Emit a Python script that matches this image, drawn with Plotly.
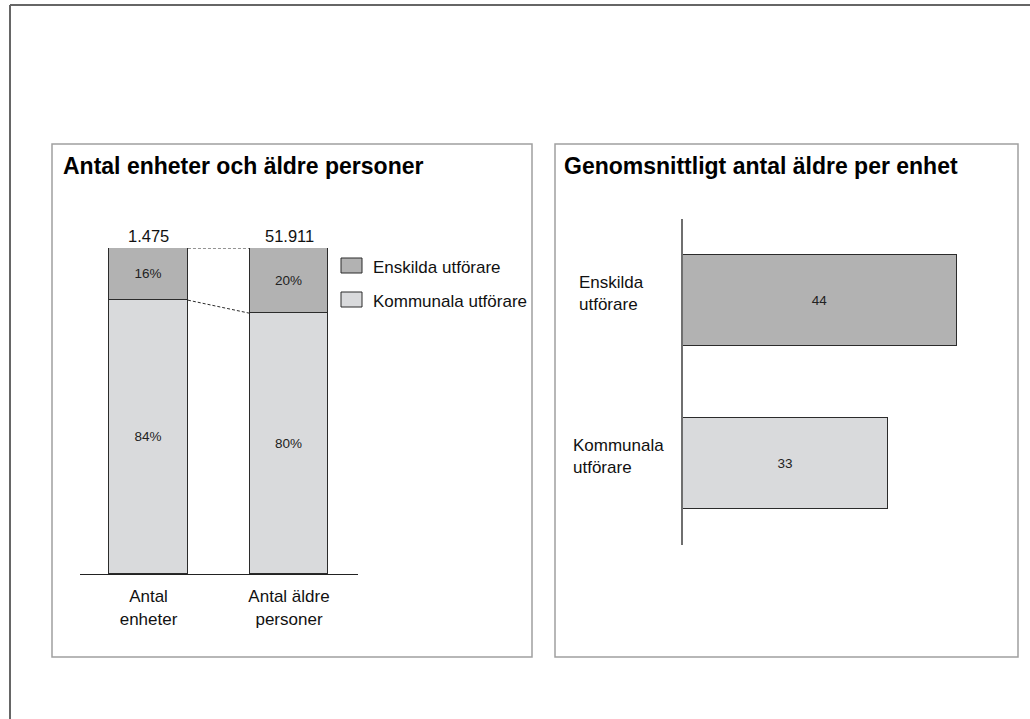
import plotly.graph_objects as go

W, H = 1030, 719

# Left panel: share of units and of elderly persons by provider type
stack_pos = [0, 1]
stack_labels = ["Antal<br>enheter", "Antal äldre<br>personer"]
totals = ["1.475", "51.911"]
share_kommunala = [84, 80]
share_enskilda = [16, 20]

# Right panel: average number of elderly persons per unit
avg_pos = [0, 1]
avg_labels = ["Kommunala<br>utförare", "Enskilda<br>utförare"]
avg_values = [33, 44]

legend_names = ["Enskilda utförare", "Kommunala utförare"]

DARK = "#b2b2b2"
LIGHT = "#d9dadc"
EDGE = "#2b2b2b"
FONT = "Arial, Liberation Sans, sans-serif"
BAR_W = 0.562


def px(x):
    return x / W


def py(y):
    return 1 - y / H


fig = go.Figure()

fig.add_trace(go.Bar(
    x=stack_pos, y=share_kommunala, width=BAR_W, name=legend_names[1],
    marker=dict(color=LIGHT, line=dict(color=EDGE, width=1)),
    text=[f"{v}%" for v in share_kommunala], textposition="inside",
    insidetextanchor="middle", textfont=dict(size=13.5, color="#222"),
    xaxis="x", yaxis="y", showlegend=False, hoverinfo="skip",
))
fig.add_trace(go.Bar(
    x=stack_pos, y=share_enskilda, width=BAR_W, name=legend_names[0],
    marker=dict(color=DARK, line=dict(color=EDGE, width=1)),
    text=[f"{v}%" for v in share_enskilda], textposition="inside",
    insidetextanchor="middle", textfont=dict(size=13.5, color="#222"),
    xaxis="x", yaxis="y", showlegend=False, hoverinfo="skip",
))

fig.add_trace(go.Bar(
    y=avg_pos, x=avg_values, orientation="h", width=0.558,
    marker=dict(color=[LIGHT, DARK], line=dict(color=EDGE, width=1)),
    text=[str(v) for v in avg_values], textposition="inside",
    insidetextanchor="middle", textfont=dict(size=13.5, color="#222"),
    xaxis="x2", yaxis="y2", showlegend=False, hoverinfo="skip",
))

shapes = [
    # page frame
    dict(type="line", xref="paper", yref="paper", x0=px(10), x1=px(1030), y0=py(5), y1=py(5),
         line=dict(color="#666", width=2)),
    dict(type="line", xref="paper", yref="paper", x0=px(10), x1=px(10), y0=py(5), y1=py(719),
         line=dict(color="#666", width=2)),
    # panel boxes
    dict(type="rect", xref="paper", yref="paper", x0=px(52), x1=px(532), y0=py(144), y1=py(657),
         line=dict(color="#a0a0a0", width=1.5)),
    dict(type="rect", xref="paper", yref="paper", x0=px(555), x1=px(1018), y0=py(144), y1=py(657),
         line=dict(color="#a0a0a0", width=1.5)),
    # connector lines between the stacked bars
    dict(type="line", xref="x", yref="y",
         x0=stack_pos[0] + BAR_W / 2, x1=stack_pos[1] - BAR_W / 2,
         y0=share_kommunala[0] + share_enskilda[0], y1=share_kommunala[1] + share_enskilda[1],
         line=dict(color=EDGE, width=1, dash="3px,2px")),
    dict(type="line", xref="x", yref="y",
         x0=stack_pos[0] + BAR_W / 2, x1=stack_pos[1] - BAR_W / 2,
         y0=share_kommunala[0], y1=share_kommunala[1],
         line=dict(color=EDGE, width=1, dash="3px,2px")),
    # legend swatches
    dict(type="rect", xref="paper", yref="paper", x0=px(341), x1=px(362), y0=py(258), y1=py(273),
         fillcolor=DARK, line=dict(color=EDGE, width=1)),
    dict(type="rect", xref="paper", yref="paper", x0=px(341), x1=px(362), y0=py(292), y1=py(307),
         fillcolor=LIGHT, line=dict(color=EDGE, width=1)),
]

annotations = [
    dict(text="<b>Antal enheter och äldre personer</b>", xref="paper", yref="paper",
         x=px(61), y=py(166), xanchor="left", yanchor="middle", showarrow=False,
         font=dict(size=23, color="#000")),
    dict(text="<b>Genomsnittligt antal äldre per enhet</b>", xref="paper", yref="paper",
         x=px(562), y=py(166), xanchor="left", yanchor="middle", showarrow=False,
         font=dict(size=23, color="#000")),
    dict(text=legend_names[0], xref="paper", yref="paper", x=px(371), y=py(267),
         xanchor="left", yanchor="middle", showarrow=False, font=dict(size=17, color="#111")),
    dict(text=legend_names[1], xref="paper", yref="paper", x=px(371), y=py(301),
         xanchor="left", yanchor="middle", showarrow=False, font=dict(size=17, color="#111")),
]

# totals above the stacks
for pos, tot, k, e in zip(stack_pos, totals, share_kommunala, share_enskilda):
    annotations.append(dict(text=tot, xref="x", yref="y", x=pos, y=k + e, xanchor="center",
                            yanchor="bottom", yshift=1, showarrow=False,
                            font=dict(size=16.5, color="#111")))

# category labels of the horizontal bars
for pos, lab, lx in zip(avg_pos, avg_labels, [571, 577]):
    annotations.append(dict(text=lab, xref="paper", yref="y2", x=px(lx), y=pos, xanchor="left",
                            yanchor="middle", yshift=7, align="left", showarrow=False,
                            font=dict(size=17, color="#111")))

fig.update_layout(
    width=W, height=H,
    margin=dict(l=0, r=0, t=0, b=0),
    paper_bgcolor="white", plot_bgcolor="white",
    font=dict(family=FONT, color="#111"),
    barmode="stack", bargap=0,
    showlegend=False,
    shapes=shapes, annotations=annotations,
    uniformtext=dict(minsize=8, mode="show"),
    xaxis=dict(domain=[px(80), px(358)], range=[-0.4875, 1.491], anchor="y",
               tickvals=stack_pos, ticktext=stack_labels, tickfont=dict(size=17, color="#111"),
               ticklabelstandoff=7,
               showline=True, linecolor="#222", linewidth=1, ticks="", showgrid=False,
               zeroline=False, fixedrange=True),
    yaxis=dict(domain=[py(574), py(248)], range=[0, 100], anchor="x", visible=False,
               fixedrange=True),
    xaxis2=dict(domain=[px(683), px(1000)], range=[0, 50.96], anchor="y2", visible=False,
                fixedrange=True),
    yaxis2=dict(domain=[py(545), py(219)], range=[-0.5, 1.5], anchor="x2", showline=True,
                linecolor="#6f6f6f", linewidth=1.5, showticklabels=False, ticks="",
                showgrid=False, zeroline=False, fixedrange=True),
)

fig.write_html("out.html", config={"displayModeBar": False})
